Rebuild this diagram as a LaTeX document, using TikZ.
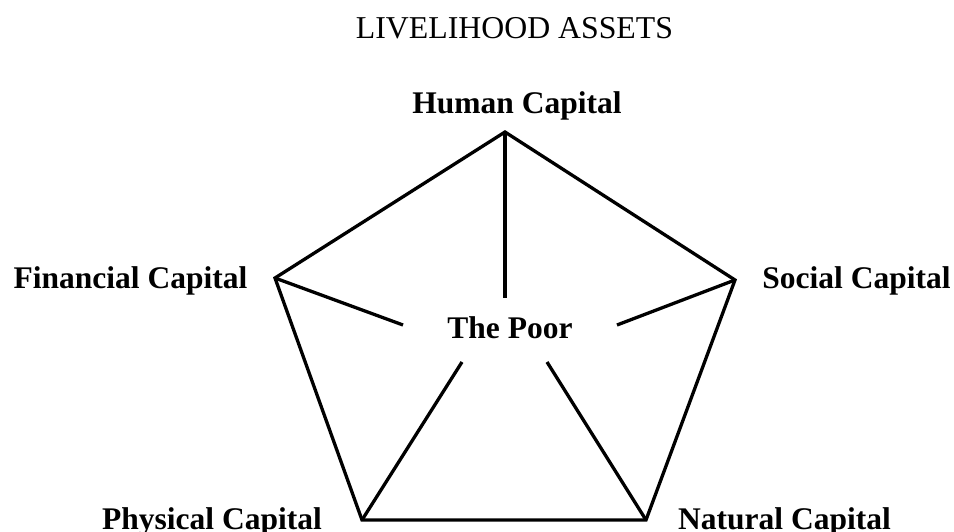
\documentclass[tikz,border=0pt]{standalone}
\usepackage{fontspec}
\setmainfont{Liberation Serif}
\usetikzlibrary{positioning}
\tikzset{
  capital/.style={font=\fontsize{31.5}{36}\selectfont\bfseries, inner sep=0pt},
  asset/.style={line width=3.3pt, line join=miter, line cap=butt}
}
\begin{document}
\begin{tikzpicture}[x=1pt,y=-1pt]
\useasboundingbox (0,0) rectangle (954,532);
    % corners of the pentagon
    \coordinate (human) at (505,132);
    \coordinate (financial) at (275,278);
    \coordinate (social) at (735,280);
    \coordinate (physical) at (362,520);
    \coordinate (natural) at (646,520);
    % where the spokes stop short of the centre
    \coordinate (humanEnd) at (505,298);
    \coordinate (financialEnd) at (403,325);
    \coordinate (socialEnd) at (617,325);
    \coordinate (physicalEnd) at (462,362);
    \coordinate (naturalEnd) at (547,362);
    \node[anchor=base, inner sep=0pt, font=\fontsize{31.8}{36}\selectfont] (title) at (514.5,39) {LIVELIHOOD ASSETS};
    \node[capital, anchor=base] (humanLbl) at (517,114) {Human Capital};
    \node[capital, anchor=base] (financialLbl) at (130.5,288) {Financial Capital};
    \node[capital, anchor=base] (socialLbl) at (856.5,288) {Social Capital};
    \node[capital, anchor=base east] (physicalLbl) at (322,529) {Physical Capital};
    \node[capital, anchor=base west] (naturalLbl) at (678,529) {Natural Capital};
    \node[capital, anchor=base] (poor) at (510,338) {The Poor};
    \draw[asset] (human) -- (social) -- (natural) -- (physical) -- (financial) -- cycle;
    \foreach \a in {human,financial,social,physical,natural} {
        \draw[asset] (\a) -- (\a End);
    }
\end{tikzpicture}
\end{document}
